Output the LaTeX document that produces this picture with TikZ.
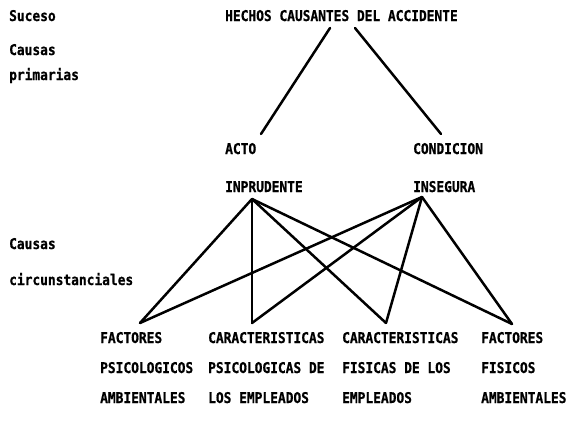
\documentclass[tikz,border=0pt]{standalone}
\usepackage{fontspec}
\newfontfamily\printerfont[FakeStretch=0.87,FakeBold=0.8]{DejaVu Sans Mono}

\begin{document}
\begin{tikzpicture}
[x=1pt,y=-1pt]
\tikzset{
	texto/.style = {anchor=west, inner sep=0, text height=10pt, text depth=0pt, font=\printerfont\bfseries\fontsize{14.8}{15}\selectfont},
	rama/.style = {line width=2.5pt, line cap=round}
}
\useasboundingbox (0,0) rectangle (569,423);

\node(suceso) [texto] at (9,16) {Suceso};
\node(cprim1) [texto] at (9,50) {Causas};
\node(cprim2) [texto] at (9,75) {primarias};
\node(ccirc1) [texto] at (9,244) {Causas};
\node(ccirc2) [texto] at (9,280) {circunstanciales};

\node(hechos) [texto] at (225,16) {HECHOS CAUSANTES DEL ACCIDENTE};
\node(acto1) [texto] at (225,149) {ACTO};
\node(acto2) [texto] at (225,187) {INPRUDENTE};
\node(cond1) [texto] at (413,149) {CONDICION};
\node(cond2) [texto] at (413,187) {INSEGURA};

\node(fpa1) [texto] at (100,338) {FACTORES};
\node(fpa2) [texto] at (100,368) {PSICOLOGICOS};
\node(fpa3) [texto] at (100,398) {AMBIENTALES};
\node(cpe1) [texto] at (208,338) {CARACTERISTICAS};
\node(cpe2) [texto] at (208,368) {PSICOLOGICAS DE};
\node(cpe3) [texto] at (208,398) {LOS EMPLEADOS};
\node(cfe1) [texto] at (342,338) {CARACTERISTICAS};
\node(cfe2) [texto] at (342,368) {FISICAS DE LOS};
\node(cfe3) [texto] at (342,398) {EMPLEADOS};
\node(ffa1) [texto] at (481,338) {FACTORES};
\node(ffa2) [texto] at (481,368) {FISICOS};
\node(ffa3) [texto] at (481,398) {AMBIENTALES};

\coordinate (hechos-a) at (330,28);
\coordinate (hechos-b) at (355,28);
\coordinate (acto-in) at (261,134);
\coordinate (cond-in) at (441,134);
\coordinate (acto-out) at (252,199);
\coordinate (cond-out) at (422,197);
\coordinate (fpa-in) at (140,323);
\coordinate (cpe-in) at (252,323);
\coordinate (cfe-in) at (386,323);
\coordinate (ffa-in) at (512,324);

\draw [rama] (hechos-a) -- (acto-in);
\draw [rama] (hechos-b) -- (cond-in);

\foreach \causa in {acto-out,cond-out}
	\foreach \factor in {fpa-in,cpe-in,cfe-in,ffa-in}
		\draw [rama] (\causa) -- (\factor);

\end{tikzpicture}
\end{document}
